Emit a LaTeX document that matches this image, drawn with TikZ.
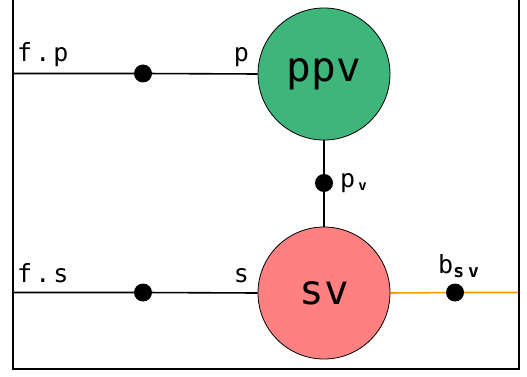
\documentclass[tikz,border=0pt]{standalone}
\usepackage{fontspec}
\usetikzlibrary{backgrounds}
\newfontfamily\monof{DejaVu Sans Mono}
\definecolor{ppvgreen}{RGB}{62,181,123}
\definecolor{svred}{RGB}{255,128,128}
\definecolor{borange}{RGB}{255,153,0}
\newcommand{\lsp}{\hspace{3pt}}
\begin{document}
\begin{tikzpicture}[x=1pt,y=-1pt,
  comp/.style={circle,draw=black,line width=0.8pt,minimum size=132pt,inner sep=0pt,font=\monof\fontsize{41}{41}\selectfont},
  port/.style={circle,fill=black,minimum size=18pt,inner sep=0pt},
  lbl/.style={inner sep=0pt,font=\monof\fontsize{25}{25}\selectfont},
  wire/.style={line width=1.6pt}]
\useasboundingbox (0,0) rectangle (527,377);
\draw[line width=2pt] (12.5,0) -- (12.5,368.5) -- (518.5,368.5) -- (518.5,0);
\coordinate (fp) at (12.5,73.5);
\coordinate (fs) at (12.5,292.5);
\coordinate (bout) at (518.5,292.5);
\node[port] (dp) at (143,73.5) {};
\node[port] (ds) at (143,292.5) {};
\node[port] (dv) at (324,183) {};
\node[port] (db) at (455,292.5) {};
\node[comp,fill=ppvgreen] (ppv) at (324,74) {ppv};
\node[comp,fill=svred] (sv) at (324,293) {sv};
\begin{pgfonlayer}{background}
\draw[wire] (fp) -- (dp.center) -- (ppv.west);
\draw[wire] (fs) -- (ds.center) -- (sv.west);
\draw[wire] (ppv.south) -- (dv.center) -- (sv.north);
\draw[wire,borange] (sv.east) -- (db.center) -- (bout);
\end{pgfonlayer}
\node[lbl,anchor=base west] (lfp) at (17,62) {f\lsp.\lsp p};
\node[lbl,anchor=base east] (lp) at (249,62) {p};
\node[lbl,anchor=base west] (lfs) at (17,282) {f\lsp.\lsp s};
\node[lbl,anchor=base east] (ls) at (249,282) {s};
\node[lbl,anchor=base west] (lpv) at (340,187) {p\hspace{3pt}\raisebox{-3pt}{\fontsize{14}{14}\selectfont\bfseries v}};
\node[lbl,anchor=base west] (lb) at (438,273) {b\raisebox{-4pt}{\fontsize{18}{18}\selectfont\bfseries s\hspace{4pt}v}};
\end{tikzpicture}
\end{document}
